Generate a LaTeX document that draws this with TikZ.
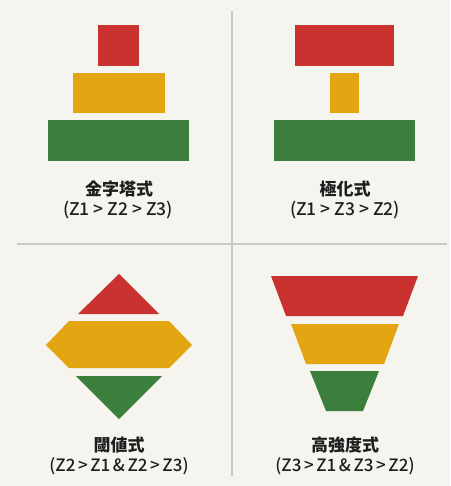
\documentclass[tikz,border=0pt]{standalone}
\usepackage{fontspec}
\setmainfont{Noto Sans CJK JP}
\newfontfamily\medfont{Noto Sans CJK JP}[UprightFont=* Medium]
\newcommand\narrowspaces{\spaceskip=2.6pt\relax}
\definecolor{bg}{RGB}{245,244,238}
\definecolor{divc}{RGB}{200,200,196}
\definecolor{zred}{RGB}{201,50,46}
\definecolor{zyel}{RGB}{227,166,18}
\definecolor{zgrn}{RGB}{60,126,60}
\definecolor{txt}{RGB}{30,30,30}
\tikzset{
  divider/.style={draw=divc, line width=1.4pt},
  title/.style={font=\fontsize{17}{19}\selectfont\bfseries, text=txt, inner sep=0pt},
  formula/.style={font=\medfont\fontsize{17.5}{19}\selectfont, text=txt, inner sep=0pt},
  formulab/.style={font=\medfont\fontsize{17}{19}\selectfont\narrowspaces, text=txt, inner sep=0pt},
}
\begin{document}
\begin{tikzpicture}[x=1pt,y=-1pt]
\fill[bg] (0,0) rectangle (450,486);
\useasboundingbox (0,0) rectangle (450,486);
% dividers
\coordinate (vt) at (232,11);
\coordinate (vb) at (232,476);
\coordinate (hl) at (17,244);
\coordinate (hr) at (447,244);
\draw[divider] (vt) -- (vb);
\draw[divider] (hl) -- (hr);
% top-left: pyramid
\fill[zred] (98,25) rectangle (139,66);
\fill[zyel] (73,73) rectangle (165,113);
\fill[zgrn] (48,120) rectangle (189,161);
\node[title] (t1) at (119,189) {金字塔式};
\node[formula] (f1) at (118,210) {(Z1 > Z2 > Z3)};
% top-right: polarised
\fill[zred] (295,25) rectangle (394,66);
\fill[zyel] (330,73) rectangle (359,113);
\fill[zgrn] (274,120) rectangle (415,161);
\node[title] (t2) at (345,189) {極化式};
\node[formula] (f2) at (345,210) {(Z1 > Z3 > Z2)};
% bottom-left: threshold
\fill[zred] (119,274) -- (159,314) -- (78,314) -- cycle;
\fill[zyel] (46,345) -- (69,321) -- (169,321) -- (192,345) -- (169,368) -- (69,368) -- cycle;
\fill[zgrn] (76,376) -- (162,376) -- (119,419) -- cycle;
\node[title] (t3) at (119,445) {閾値式};
\node[formulab] (f3) at (119,466) {(Z2 > Z1 \& Z2 > Z3)};
% bottom-right: high intensity
\fill[zred] (271,276) -- (418,276) -- (403,316) -- (286,316) -- cycle;
\fill[zyel] (291,324) -- (399,324) -- (384,364) -- (306,364) -- cycle;
\fill[zgrn] (310,371) -- (379,371) -- (363,411) -- (326,411) -- cycle;
\node[title] (t4) at (345,445) {高強度式};
\node[formulab] (f4) at (345,466) {(Z3 > Z1 \& Z3 > Z2)};
\end{tikzpicture}
\end{document}
